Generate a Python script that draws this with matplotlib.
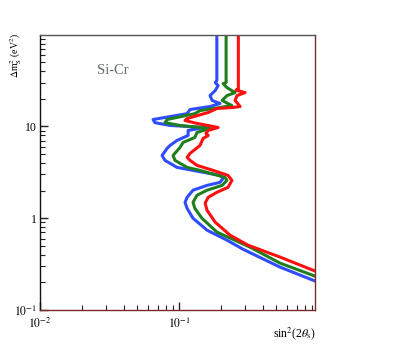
import matplotlib
matplotlib.use('Agg')
import matplotlib.pyplot as plt
from matplotlib.ticker import LogLocator, NullFormatter, FixedLocator, FixedFormatter

plt.rcParams['font.family'] = ['Liberation Serif', 'DejaVu Serif']
plt.rcParams['mathtext.fontset'] = 'stix'

# exclusion contours, sin^2(2theta) vs dm^2 (eV^2)
blue_x = [0.187, 0.187, 0.182, 0.191, 0.182, 0.167, 0.173, 0.197, 0.167, 0.120,
          0.1143, 0.065, 0.0671, 0.0861, 0.154, 0.1162, 0.1162, 0.0968, 0.0861, 0.0821,
          0.0755, 0.0792, 0.0968, 0.126, 0.197, 0.2075, 0.197, 0.159, 0.126, 0.1143,
          0.1104, 0.1143, 0.126, 0.159, 0.221, 0.288, 0.533, 0.950]
blue_y = [95.1, 31.6, 30.1, 27.9, 24.6, 21.7, 19.2, 17.8, 16.5, 15.3,
          13.8, 11.9, 11.0, 10.26, 9.75, 9.05, 7.98, 7.05, 6.21, 5.77,
          4.84, 4.27, 3.58, 3.32, 2.93, 2.72, 2.46, 2.28, 2.02, 1.69,
          1.49, 1.28, 1.0, 0.741, 0.577, 0.460, 0.293, 0.207]

green_x = [0.218, 0.218, 0.2075, 0.221, 0.253, 0.221, 0.204, 0.240, 0.197, 0.1415,
           0.130, 0.0821, 0.0792, 0.1016, 0.167, 0.1346, 0.130, 0.107, 0.1016, 0.0906,
           0.0935, 0.1143, 0.1415, 0.214, 0.221, 0.204, 0.159, 0.1346, 0.126, 0.130,
           0.146, 0.1875, 0.324, 0.533, 0.950]
green_y = [95.1, 30.1, 29.3, 26.5, 23.4, 21.7, 19.2, 16.9, 16.1, 14.9,
           13.8, 11.9, 11.0, 10.26, 9.51, 8.61, 7.59, 6.70, 5.91, 4.84,
           4.27, 3.58, 3.32, 2.79, 2.59, 2.28, 2.02, 1.78, 1.49, 1.28,
           1.0, 0.705, 0.484, 0.324, 0.234]

red_x = [0.267, 0.267, 0.257, 0.2985, 0.261, 0.253, 0.275, 0.244, 0.1875, 0.162,
         0.1143, 0.1104, 0.1346, 0.191, 0.162, 0.156, 0.162, 0.149, 0.1415, 0.120,
         0.1143, 0.120, 0.1346, 0.176, 0.225, 0.240, 0.225, 0.1875, 0.162, 0.154,
         0.159, 0.182, 0.233, 0.313, 0.533, 0.950]
red_y = [95.1, 25.9, 24.9, 23.4, 21.7, 19.2, 16.5, 16.1, 15.7, 14.2,
         12.2, 11.6, 10.8, 9.75, 9.05, 8.40, 7.98, 7.41, 6.21, 5.09,
         4.61, 4.27, 3.77, 3.32, 2.93, 2.59, 2.17, 1.92, 1.69, 1.46,
         1.22, 0.905, 0.653, 0.509, 0.377, 0.266]

x_ticks = [0.01, 0.1]
x_labels = ['$10^{-2}$', '$10^{-1}$']
y_ticks = [0.1, 1, 10]
y_labels = ['$10^{-1}$', '1', '10']

fig = plt.figure(figsize=(3.95, 3.46), dpi=100)
ax = fig.add_axes([40 / 395, 1 - 310 / 346, 275 / 395, 275.3 / 346])

for xs, ys, col in [(blue_x, blue_y, '#2f4dff'),
                    (green_x, green_y, '#1f7f1f'),
                    (red_x, red_y, '#ff1010')]:
    ax.plot(xs, ys, color=col, lw=2.2, solid_joinstyle='round')

ax.set_xscale('log')
ax.set_yscale('log')
ax.set_xlim(0.01, 0.95)
ax.set_ylim(0.1, 100)

ax.xaxis.set_major_locator(FixedLocator(x_ticks))
ax.xaxis.set_major_formatter(FixedFormatter(x_labels))
ax.yaxis.set_major_locator(FixedLocator(y_ticks))
ax.yaxis.set_major_formatter(FixedFormatter(y_labels))
for axis in (ax.xaxis, ax.yaxis):
    axis.set_minor_locator(LogLocator(base=10, subs=range(2, 10)))
    axis.set_minor_formatter(NullFormatter())

ax.tick_params(which='both', direction='in', top=False, right=False,
               labelsize=8.5, color='#222222')
ax.tick_params(axis='x', pad=5)
ax.tick_params(axis='y', pad=2)
ax.tick_params(which='major', length=6, width=1.0)
ax.tick_params(which='minor', length=3.5, width=0.8)

ax.spines['left'].set_color('#111111')
ax.spines['top'].set_color('#555555')
ax.spines['right'].set_color('#7a2a2a')
ax.spines['bottom'].set_color('#7a2a2a')
for s in ax.spines.values():
    s.set_linewidth(1.0)

ax.text(97 / 395, 1 - 70 / 346, 'Si-Cr', transform=fig.transFigure,
        fontsize=10.5, color='#5f6b6b', ha='left', va='center')

fig.text(316 / 395, 1 - 334 / 346, r'sin$^{2}$(2$\theta_{\rm s}$)',
         fontsize=8.5, ha='right', va='center')
fig.text(16 / 395, 1 - 33 / 346, r'$\Delta$m$^{2}_{\rm S}$ (eV$^{2}$)',
         fontsize=7, rotation=90, ha='center', va='top')

fig.savefig('out.png', dpi=100)
